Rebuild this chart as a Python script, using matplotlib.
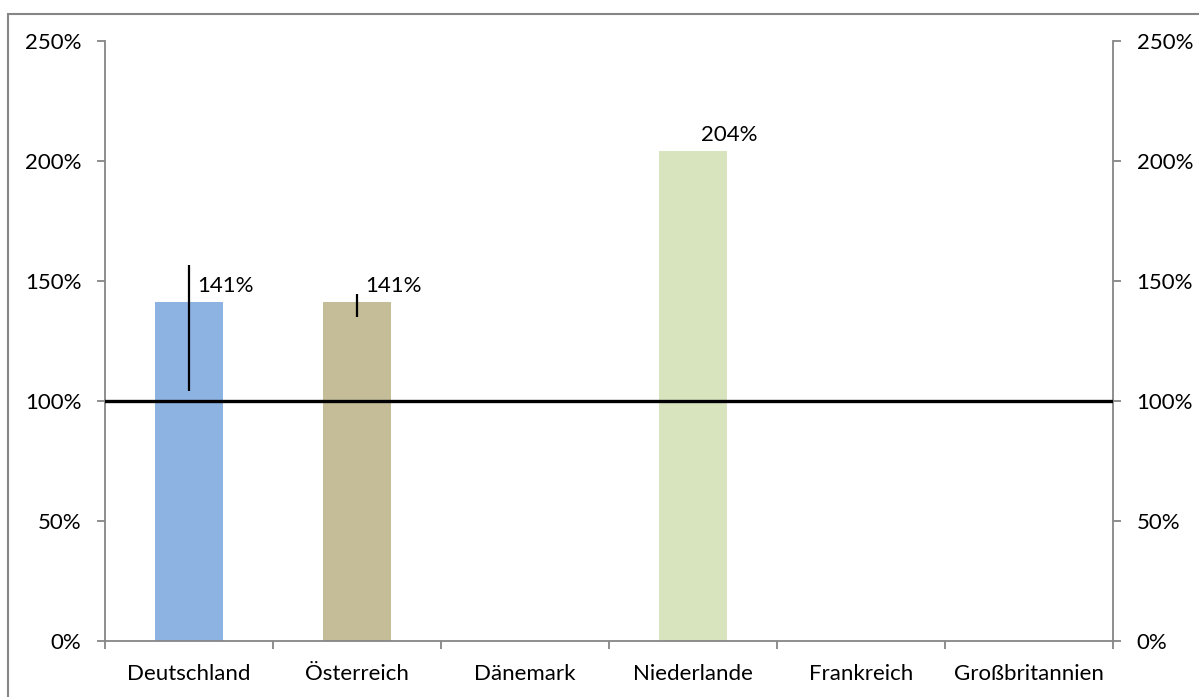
import numpy as np
import matplotlib.pyplot as plt
from matplotlib.patches import Rectangle
from matplotlib.ticker import PercentFormatter

plt.rcParams['font.family'] = ['Lato', 'DejaVu Sans']

# data
countries = ['Deutschland', 'Österreich', 'Dänemark', 'Niederlande', 'Frankreich', 'Großbritannien']
values = [1.41, 1.41, np.nan, 2.04, np.nan, np.nan]
err_low = [0.37, 0.06, 0, 0, 0, 0]
err_high = [0.155, 0.035, 0, 0, 0, 0]
labels = ['141%', '141%', '', '204%', '', '']
colors = ['#8DB3E2', '#C4BD97', '#FFFFFF', '#D7E4BD', '#FFFFFF', '#FFFFFF']
reference = 1.0

axis_gray = '#868686'
fs = 16

fig = plt.figure(figsize=(11.99, 6.97), dpi=100)
ax = fig.add_axes([0.0876, 0.0808, 0.8407, 0.8604])

x = np.arange(len(countries))
ax.bar(x, values, width=0.41, color=colors, zorder=2)

# error bars only where they exist
for i in range(len(countries)):
    if err_low[i] or err_high[i]:
        ax.errorbar(x[i], values[i], yerr=[[err_low[i]], [err_high[i]]],
                    fmt='none', ecolor='black', elinewidth=1.6, capsize=0, zorder=4)

for i in range(len(countries)):
    if labels[i]:
        ax.annotate(labels[i], (x[i], values[i]), xytext=(6, 12), textcoords='offset points',
                    ha='left', va='center', fontsize=fs, color='black', zorder=5)

ax.axhline(reference, color='black', lw=2.4, zorder=3)

ax.set_xlim(-0.5, len(countries) - 0.5)
ax.set_ylim(0, 2.5)
ax.set_yticks(np.arange(0, 2.51, 0.5))
ax.yaxis.set_major_formatter(PercentFormatter(1.0, decimals=0))
ax.set_xticks(x)
ax.set_xticklabels(countries)
ax.set_xticks(np.arange(-0.5, len(countries)), minor=True)

ax.tick_params(axis='x', which='major', length=0, pad=17, labelsize=fs)
ax.tick_params(axis='x', which='minor', length=6, color=axis_gray, width=1.3, direction='out')
ax.tick_params(axis='y', length=6, color=axis_gray, width=1.3, direction='out', pad=11,
               labelsize=fs, left=True, right=True, labelleft=True, labelright=True)

for side in ['left', 'right', 'bottom']:
    ax.spines[side].set_color(axis_gray)
    ax.spines[side].set_linewidth(1.3)
ax.spines['top'].set_visible(False)

# outer chart border (cut off at the right and bottom)
fig.patches.append(Rectangle((8 / 1199, -0.1), 1.2, (697 - 14) / 697 + 0.1,
                             transform=fig.transFigure, fill=False,
                             edgecolor=axis_gray, lw=1.5))

fig.savefig('out.png', dpi=100)
